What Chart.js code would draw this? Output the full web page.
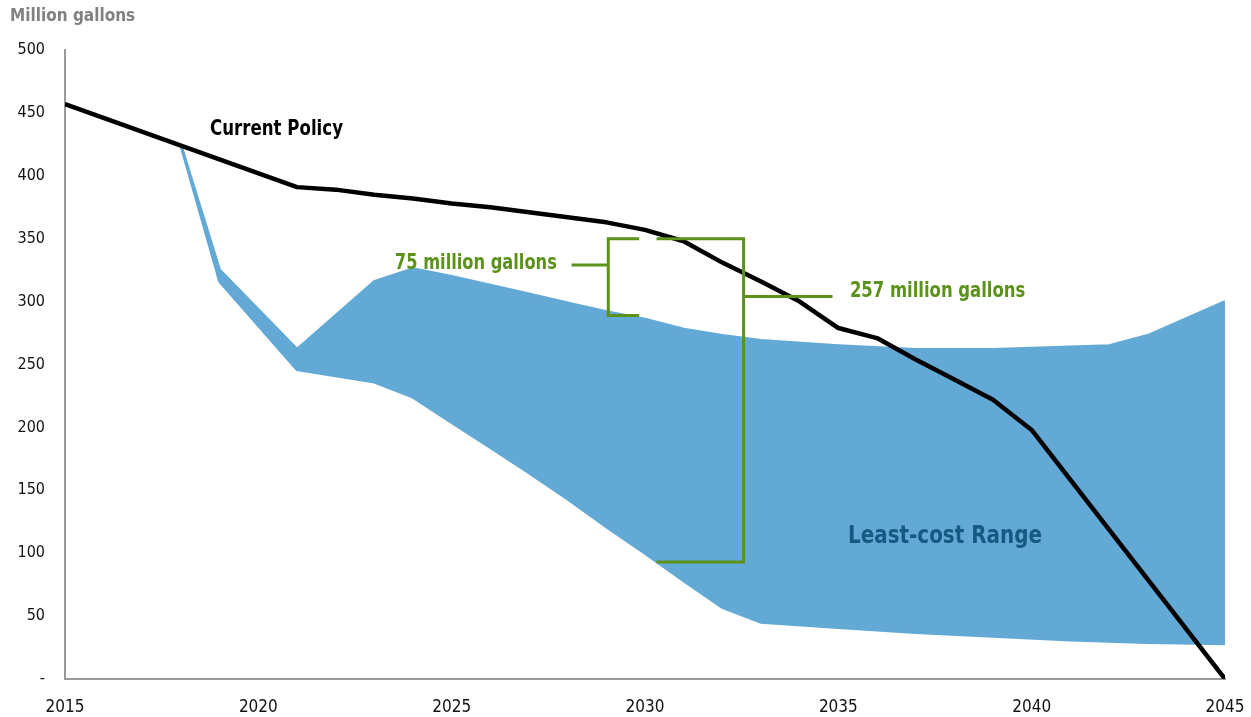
<!DOCTYPE html>
<html>
<head>
<meta charset="utf-8">
<script src="https://cdn.jsdelivr.net/npm/chart.js@4/dist/chart.umd.min.js"></script>
<style>
  html, body { margin: 0; padding: 0; background: #ffffff; }
  #wrap { width: 1251px; height: 717px; position: relative; }
</style>
</head>
<body>
<div id="wrap"><canvas id="waterChart"></canvas></div>
<script>
// Current Policy: tahun-tahun sudut garis dan nilainya (juta galon)
const policyYears = [2015, 2018, 2021, 2022, 2023, 2024, 2025, 2026, 2027, 2028, 2029, 2030, 2031, 2032, 2033, 2034, 2035, 2036, 2037, 2038, 2039, 2040, 2045];
const policyValues = [457, 424, 391, 389, 385, 382, 378, 375, 371, 367, 363, 357, 348, 331, 316, 300, 279, 271, 254, 238, 222, 198, 0];

// Least-cost range: batas atas dan bawah
const rangeYears = [2018, 2019, 2021, 2023, 2024, 2025, 2026, 2027, 2028, 2029, 2030, 2031, 2032, 2033, 2035, 2037, 2039, 2041, 2042, 2043, 2045];
const rangeUpper = [424, 325, 262, 316, 326, 320, 313, 306, 299, 292, 286, 278, 273, 269, 265, 262, 262, 264, 265, 273, 300];
const rangeLower = [424, 316, 246, 236, 224, 204, 184, 164, 143, 121, 100, 78, 57, 45, 41, 37, 34, 31, 30, 29, 28];

// Tick sumbu
const yTicks = [0, 50, 100, 150, 200, 250, 300, 350, 400, 450, 500];
const xTicks = [2015, 2020, 2025, 2030, 2035, 2040, 2045];

// Kurung selisih: [xUjungBuka, xTulang, yAtas, yBawah, xTanda, yTanda, xUjungTanda]
const bracketSmall = [2029.85, 2029.05, 350, 289, 2029.05, 329, 2028.1];
const bracketLarge = [2030.3, 2032.55, 350, 93, 2032.55, 304, 2034.85];

const GREEN = '#5b9219';
const BAND = '#63a9d6';
const NARROW = "'Liberation Sans Narrow', 'DejaVu Sans Condensed', 'Roboto', sans-serif";

const toPoints = (xs, ys) => xs.map((x, i) => ({ x: x, y: ys[i] }));

// Menulis teks yang dipadatkan secara horizontal (font condensed).
function narrowText(ctx, text, x, y, squeeze, align) {
    ctx.save();
    ctx.translate(x, y);
    ctx.scale(squeeze, 1);
    ctx.textAlign = align || 'left';
    ctx.fillText(text, 0, 0);
    ctx.restore();
}

// Menggambar kurung hijau dan label teks di atas grafik.
const annotations = {
    id: 'annotations',
    afterDatasetsDraw(chart) {
        const { ctx, scales } = chart;
        const px = v => scales.x.getPixelForValue(v);
        const py = v => scales.y.getPixelForValue(v);

        ctx.save();
        ctx.strokeStyle = GREEN;
        ctx.lineWidth = 3;
        ctx.lineCap = 'butt';

        [bracketSmall, bracketLarge].forEach(b => {
            const [xOpen, xSpine, yTop, yBot, xTick, yTick, xTickEnd] = b;
            ctx.beginPath();
            ctx.moveTo(px(xOpen), py(yTop));
            ctx.lineTo(px(xSpine), py(yTop));
            ctx.lineTo(px(xSpine), py(yBot));
            ctx.lineTo(px(xOpen), py(yBot));
            ctx.moveTo(px(xTick), py(yTick));
            ctx.lineTo(px(xTickEnd), py(yTick));
            ctx.stroke();
        });

        ctx.textBaseline = 'middle';
        ctx.font = 'bold 21px ' + NARROW;
        ctx.fillStyle = GREEN;
        narrowText(ctx, '75 million gallons', px(2027.72), py(330), 0.86, 'right');
        narrowText(ctx, '257 million gallons', px(2035.3), py(308), 0.87, 'left');

        ctx.fillStyle = '#000000';
        narrowText(ctx, 'Current Policy', 210, 130, 0.88, 'left');

        ctx.font = 'bold 25px ' + NARROW;
        ctx.fillStyle = '#145a82';
        narrowText(ctx, 'Least-cost Range', 848, 536, 0.886, 'left');

        ctx.font = 'bold 17px ' + NARROW;
        ctx.fillStyle = '#808080';
        ctx.textAlign = 'left';
        ctx.fillText('Million gallons', 10, 17);
        ctx.restore();
    }
};

const canvas = document.getElementById('waterChart');
new Chart(canvas.getContext('2d'), {
    type: 'line',
    plugins: [annotations],
    data: {
        datasets: [
            {
                label: 'Lower',
                data: toPoints(rangeYears, rangeLower),
                borderColor: BAND,
                borderWidth: 3,
                pointRadius: 0,
                fill: false,
                order: 3
            },
            {
                label: 'Upper',
                data: toPoints(rangeYears, rangeUpper),
                borderColor: BAND,
                backgroundColor: BAND,
                borderWidth: 3,
                pointRadius: 0,
                fill: '-1',
                order: 2
            },
            {
                label: 'Current Policy',
                data: toPoints(policyYears, policyValues),
                borderColor: '#000000',
                borderWidth: 4.5,
                borderJoinStyle: 'round',
                pointRadius: 0,
                fill: false,
                order: 1
            }
        ]
    },
    options: {
        responsive: true,
        maintainAspectRatio: false,
        animation: false,
        layout: { padding: { left: 0, top: 50, right: 26, bottom: 0 } },
        plugins: {
            legend: { display: false },
            tooltip: { enabled: false }
        },
        scales: {
            x: {
                type: 'linear',
                min: 2015,
                max: 2045,
                afterBuildTicks: (scale) => { scale.ticks = xTicks.map(v => ({ value: v })); },
                afterFit: (scale) => {
                    scale.height = 38;
                    scale.paddingLeft = 0;
                    scale.paddingRight = 0;
                },
                grid: { display: false, drawTicks: false },
                border: { display: true, color: '#9a9a9a', width: 2 },
                ticks: {
                    color: '#111111',
                    padding: 18,
                    maxRotation: 0,
                    font: { family: NARROW, size: 17 },
                    callback: v => String(v)
                }
            },
            y: {
                min: 0,
                max: 500,
                afterBuildTicks: (scale) => { scale.ticks = yTicks.map(v => ({ value: v })); },
                afterFit: (scale) => { scale.width = 65; },
                grid: { display: false, drawTicks: false },
                border: { display: true, color: '#9a9a9a', width: 2 },
                ticks: {
                    color: '#111111',
                    padding: 20,
                    font: { family: NARROW, size: 16 },
                    callback: v => (v === 0 ? '-' : String(v))
                }
            }
        }
    }
});
</script>
</body>
</html>
